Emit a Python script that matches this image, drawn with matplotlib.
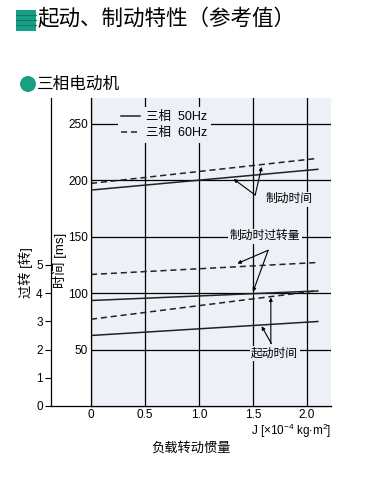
import numpy as np
import matplotlib.pyplot as plt
from matplotlib.patches import Rectangle, Ellipse
from matplotlib.lines import Line2D

plt.rcParams['font.family'] = ['Liberation Sans', 'Noto Sans CJK SC']
plt.rcParams['mathtext.default'] = 'regular'

# load inertia J [x10^-4 kg m^2]
J = [0.0, 2.1]

# times in ms (50Hz solid, 60Hz dashed)
brake_50 = [191.4, 209.8]
brake_60 = [197.3, 219.5]
over_50 = [93.5, 102.0]     # overrun shown on ms scale (1 turn = 25 ms)
over_60 = [116.6, 127.2]
start_50 = [62.5, 74.9]
start_60 = [76.9, 102.2]

time_ticks = [50, 100, 150, 200, 250]
turn_ticks = [0, 1, 2, 3, 4, 5]
j_ticks = [0, 0.5, 1.0, 1.5, 2.0]
j_labels = ["0", "0.5", "1.0", "1.5", "2.0"]

BG = '#edf0f6'
W, H = 371, 492

fig = plt.figure(figsize=(W / 100, H / 100), dpi=100)
bot = 1 - 406 / H
ht = (406 - 98) / H

# 过转 axis (left, behind)
ax2 = fig.add_axes([51 / W, bot, 280 / W, ht], zorder=0)
ax2.patch.set_visible(False)
ax2.set_ylim(0, 273 / 25)
ax2.set_xlim(0, 1)
ax2.set_xticks([])
ax2.set_yticks(turn_ticks)
ax2.tick_params(axis='y', length=4, width=0.8, pad=2, labelsize=8.5)
for s in ['top', 'right']:
    ax2.spines[s].set_visible(False)
ax2.spines['left'].set_linewidth(0.9)
ax2.spines['bottom'].set_linewidth(0.9)

# main time axis
ax = fig.add_axes([91 / W, bot, 240 / W, ht], zorder=1)
ax.set_facecolor(BG)
ax.set_xlim(0, 2.222)
ax.set_ylim(0, 273)
ax.set_yticks(time_ticks)
ax.set_xticks(j_ticks)
ax.set_xticklabels(j_labels)
ax.tick_params(length=0, labelsize=8.5, pad=2)
ax.tick_params(axis='x', pad=2)
for s in ['top', 'right']:
    ax.spines[s].set_visible(False)
ax.spines['left'].set_linewidth(0.9)
ax.spines['bottom'].set_linewidth(0.9)
ax.grid(True, color='black', lw=0.9)
ax.set_axisbelow(True)

dash = (0, (4, 2.5))
lc = '#222222'
ax.plot(J, brake_50, color=lc, lw=1.1, label='三相  50Hz')
ax.plot(J, brake_60, color=lc, lw=1.1, ls=dash, label='三相  60Hz')
ax.plot(J, over_50, color=lc, lw=1.1)
ax.plot(J, over_60, color=lc, lw=1.1, ls=dash)
ax.plot(J, start_50, color=lc, lw=1.1)
ax.plot(J, start_60, color=lc, lw=1.1, ls=dash)

leg = ax.legend(loc='upper left', bbox_to_anchor=(0.085, 0.99), fontsize=9,
                facecolor=BG, edgecolor='none', framealpha=1, handlelength=1.5,
                handletextpad=0.5, borderpad=0.3, labelspacing=0.3, fancybox=False)

# annotations
box = dict(facecolor=BG, edgecolor='none', pad=1)
arr = dict(arrowstyle='-|>', mutation_scale=5, lw=0.8, color='k', shrinkA=0, shrinkB=0)
ax.text(1.83, 183.4, '制动时间', fontsize=8.5, ha='center', va='center', bbox=box)
ax.annotate('', xy=(1.32, 201.2), xytext=(1.52, 187), arrowprops=arr)
ax.annotate('', xy=(1.58, 212.0), xytext=(1.52, 187), arrowprops=arr)

ax.text(1.61, 150.5, '制动时过转量', fontsize=8.5, ha='center', va='center', bbox=box)
ax.annotate('', xy=(1.355, 126.3), xytext=(1.64, 138), arrowprops=arr)
ax.annotate('', xy=(1.50, 101.2), xytext=(1.64, 138), arrowprops=arr)

ax.text(1.70, 46.4, '起动时间', fontsize=8.5, ha='center', va='center', bbox=box)
ax.annotate('', xy=(1.665, 96.2), xytext=(1.665, 55.3), arrowprops=arr)
ax.annotate('', xy=(1.58, 70.7), xytext=(1.67, 55.3), arrowprops=arr)

# axis titles
fig.text(60 / W, 1 - 260 / H, '时间 [ms]', rotation=90, fontsize=9.5, ha='center', va='center')
fig.text(26 / W, 1 - 273 / H, '过转 [转]', rotation=90, fontsize=9.5, ha='center', va='center')
fig.text(331 / W, 1 - 431 / H, r'J [$\times$10$^{-4}$ kg$\bullet$m$^2$]', fontsize=8.5,
         ha='right', va='center')
fig.text(191 / W, 1 - 448 / H, '负载转动惯量', fontsize=9.5, ha='center', va='center')

# headings
teal = '#17a085'
fig.patches.append(Rectangle((16 / W, 1 - 31 / H), 20 / W, 21 / H, transform=fig.transFigure,
                             facecolor=teal, edgecolor='none'))
for yy in [15, 20, 25]:
    fig.add_artist(Line2D([16 / W, 36 / W], [1 - yy / H] * 2, color='#0e7a63', lw=0.8))
fig.text(37 / W, 1 - 20 / H, '起动、制动特性（参考值）', fontsize=15.5, ha='left', va='center')

fig.patches.append(Ellipse((28 / W, 1 - 84 / H), 16 / W, 16 / H, transform=fig.transFigure,
                           facecolor=teal, edgecolor='none'))
fig.text(37 / W, 1 - 84 / H, '三相电动机', fontsize=12, ha='left', va='center')

fig.savefig('out.png', dpi=100)
